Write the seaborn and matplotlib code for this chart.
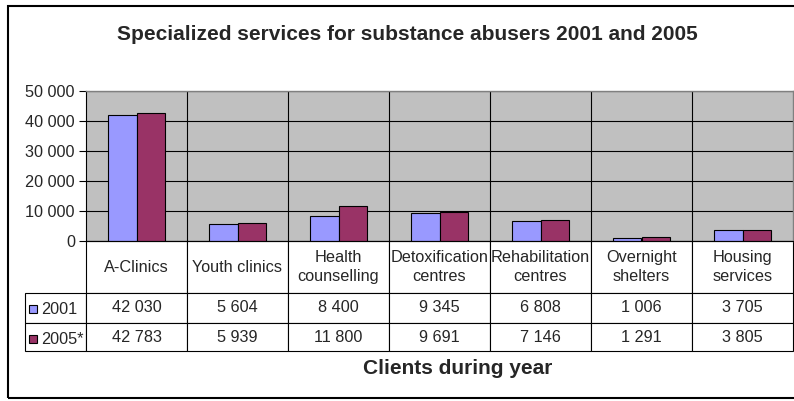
import numpy as np
import pandas as pd
import seaborn as sns
import matplotlib.pyplot as plt
from matplotlib.patches import Rectangle

# data
categories = ["A-Clinics", "Youth clinics", "Health\ncounselling",
              "Detoxification\ncentres", "Rehabilitation\ncentres",
              "Overnight\nshelters", "Housing\nservices"]
clients_2001 = [42030, 5604, 8400, 9345, 6808, 1006, 3705]
clients_2005 = [42783, 5939, 11800, 9691, 7146, 1291, 3805]
series = ["2001", "2005*"]
colors = ["#9999FF", "#993366"]
y_ticks = [0, 10000, 20000, 30000, 40000, 50000]

sns.set_theme(style="white")
plt.rcParams["font.family"] = ["Liberation Sans", "DejaVu Sans"]


def fmt(v):
    return f"{v:,}".replace(",", " ")


df = pd.DataFrame({
    "service": categories * 2,
    "clients": clients_2001 + clients_2005,
    "year": [series[0]] * len(categories) + [series[1]] * len(categories),
})

W, H = 794, 401
fig = plt.figure(figsize=(W / 100, H / 100), dpi=100)
fig.patch.set_facecolor("white")
fs = 11.7

# plot area in pixels: x 86..793, y 91..241
ax = fig.add_axes([86 / W, 1 - 241 / H, (793 - 86) / W, 150 / H])
ax.set_facecolor("#C0C0C0")
sns.barplot(data=df, x="service", y="clients", hue="year", palette=colors,
            saturation=1, width=0.57, edgecolor="black", linewidth=0.8,
            legend=False, ax=ax)

ax.set_xlim(-0.5, len(categories) - 0.5)
ax.set_ylim(0, 50000)
ax.set_yticks(y_ticks)
ax.set_yticklabels([fmt(v) for v in y_ticks])
ax.set_xticks([])
ax.set_xticks(np.arange(0.5, len(categories) - 1, 1), minor=True)
ax.tick_params(axis="x", which="both", length=0, labelbottom=False)
ax.tick_params(axis="y", length=5, width=0.8, color="black", direction="out",
               labelsize=fs, pad=3, left=True)
ax.grid(axis="y", which="major", color="black", linewidth=0.8)
ax.grid(axis="x", which="minor", color="black", linewidth=0.8)
ax.set_axisbelow(True)
ax.set_xlabel("")
ax.set_ylabel("")
for side in ["left", "bottom"]:
    ax.spines[side].set_color("black")
    ax.spines[side].set_linewidth(0.8)
for side in ["top", "right"]:
    ax.spines[side].set_color("#808080")
    ax.spines[side].set_linewidth(1.0)

# data table under the plot
rows = [[""] + categories,
        [""] + [fmt(v) for v in clients_2001],
        [""] + [fmt(v) for v in clients_2005]]
first_w = 61 / 707
col_w = 1 / len(categories)
tbl = ax.table(cellText=rows, colWidths=[first_w] + [col_w] * len(categories),
               cellLoc="center", bbox=[-first_w, -110 / 150, 1 + first_w, 110 / 150])
tbl.auto_set_font_size(False)
tbl.set_fontsize(fs)
row_h = [52, 30, 28]
for (r, c), cell in tbl.get_celld().items():
    cell.set_height(row_h[r])
    cell.set_edgecolor("black")
    cell.set_linewidth(0.8)
    cell.set_facecolor("white")
    cell.get_text().set_linespacing(1.3)
tbl[0, 0].visible_edges = "open"

# legend keys inside the table
for i, (name, col) in enumerate(zip(series, colors)):
    yc = [309, 339][i]
    fig.add_artist(Rectangle((29 / W, 1 - (yc + 4) / H), 8 / W, 8 / H,
                             facecolor=col, edgecolor="black", linewidth=0.8,
                             transform=fig.transFigure))
    fig.text(41 / W, 1 - yc / H, name, fontsize=fs, ha="left", va="center")

fig.text(407 / W, 1 - 34 / H, "Specialized services for substance abusers 2001 and 2005",
         fontsize=15, fontweight="bold", ha="center", va="center")
fig.text(458 / W, 1 - 369 / H, "Clients during year",
         fontsize=15, fontweight="bold", ha="center", va="center")

# outer chart border (right side is cut off in the original)
fig.add_artist(Rectangle((8 / W, 3 / H), 1, (398 - 6) / H, fill=False,
                         edgecolor="black", linewidth=1.5,
                         transform=fig.transFigure))

fig.savefig("out.png", dpi=100)
